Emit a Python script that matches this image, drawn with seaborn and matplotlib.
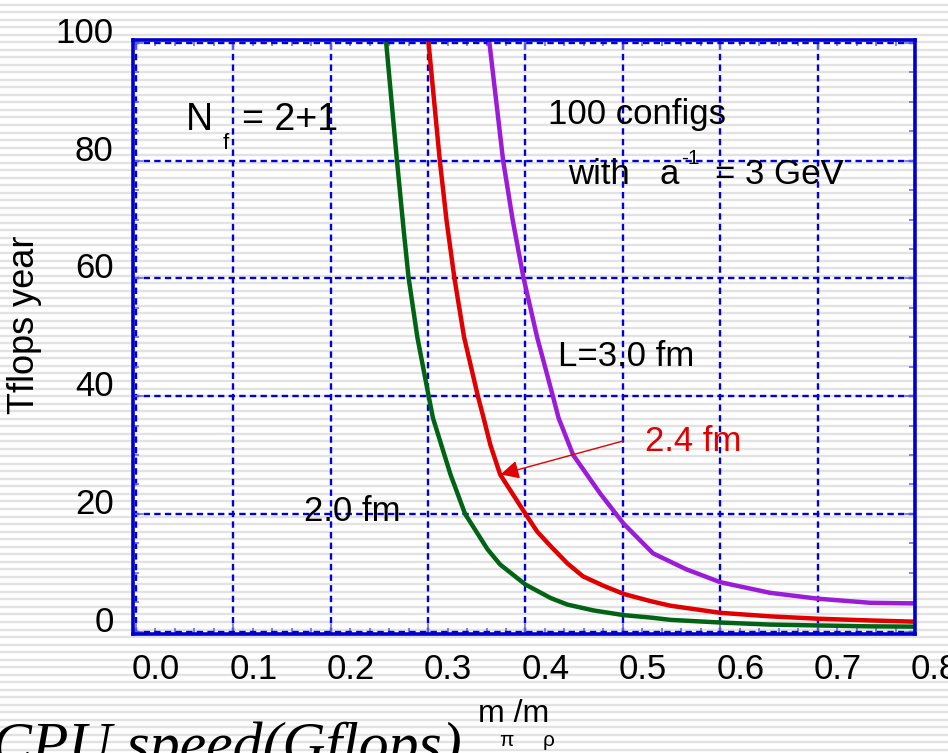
import numpy as np
import seaborn as sns
import matplotlib
matplotlib.use("Agg")
import matplotlib.pyplot as plt
from matplotlib.ticker import MultipleLocator
from matplotlib.transforms import ScaledTranslation

# values (x = m_pi/m_rho, y = Tflops year)
x_20 = [0.257, 0.268, 0.275, 0.280, 0.289, 0.3005, 0.305, 0.323, 0.338, 0.361,
        0.374, 0.400, 0.426, 0.443, 0.470, 0.501, 0.528, 0.549, 0.600, 0.651,
        0.700, 0.754, 0.798]
y_20 = [100, 80.1, 68.1, 60.1, 50.0, 40.1, 36.3, 26.7, 20.0, 14.0,
        11.4, 8.0, 5.7, 4.6, 3.6, 2.8, 2.4, 2.0, 1.55, 1.2,
        1.05, 0.9, 0.85]

x_24 = [0.3005, 0.312, 0.319, 0.327, 0.337, 0.351, 0.357, 0.364, 0.374, 0.400,
        0.412, 0.426, 0.443, 0.459, 0.480, 0.501, 0.528, 0.549, 0.600, 0.651,
        0.700, 0.754, 0.798]
y_24 = [100, 80.1, 69.8, 60.1, 50.0, 40.1, 36.3, 31.7, 26.7, 20.0,
        17.0, 14.5, 11.6, 9.4, 7.8, 6.4, 5.2, 4.4, 3.2, 2.6,
        2.2, 1.9, 1.7]

x_30 = [0.363, 0.377, 0.387, 0.398, 0.412, 0.428, 0.434, 0.449, 0.477, 0.501,
        0.531, 0.565, 0.600, 0.651, 0.700, 0.754, 0.798]
y_30 = [100, 80.1, 69.8, 60.1, 50.0, 40.1, 36.3, 30.0, 23.4, 18.3,
        13.3, 10.6, 8.4, 6.6, 5.6, 4.9, 4.8]

xticks = [0.0, 0.1, 0.2, 0.3, 0.4, 0.5, 0.6, 0.7, 0.8]
yticks = [0, 20, 40, 60, 80, 100]

sns.set_style("ticks")
plt.rcParams['font.family'] = ['Liberation Sans', 'DejaVu Sans']
plt.rcParams['text.color'] = 'black'
plt.rcParams['axes.labelcolor'] = 'black'
plt.rcParams['xtick.labelcolor'] = 'black'
plt.rcParams['ytick.labelcolor'] = 'black'

fig = plt.figure(figsize=(9.48, 7.53), dpi=100, facecolor="white")

# striped background
bg = fig.add_axes([0, 0, 1, 1], zorder=-1)
bg.hlines(np.arange(100) / 100 + 0.004, 0, 1, color="#e2e2e2", lw=1.7)
bg.set_xlim(0, 1)
bg.set_ylim(0, 1)
bg.axis("off")

ax = fig.add_axes([133 / 948, 119 / 753, 782 / 948, 594 / 753])
ax.set_facecolor("none")

sns.lineplot(x=x_20, y=y_20, color="#006414", lw=3.2, ax=ax)
sns.lineplot(x=x_24, y=y_24, color="#e00000", lw=3.2, ax=ax)
sns.lineplot(x=x_30, y=y_30, color="#9b1cd8", lw=3.2, ax=ax)

ax.set_xlim(-0.003, 0.8)
ax.set_ylim(-0.4, 100.5)
ax.set_xticks(xticks)
ax.set_yticks(yticks)
ax.set_xticklabels(["%.1f" % v for v in xticks])
ax.set_yticklabels([str(v) for v in yticks])
ax.xaxis.set_minor_locator(MultipleLocator(0.02))
ax.yaxis.set_minor_locator(MultipleLocator(5))

ax.grid(True, which="major", color="#0000dd", lw=1.7, linestyle=(0, (2.7, 1.8)))
for s in ax.spines.values():
    s.set_color("#0000cc")
    s.set_linewidth(2.6)
    s.set_visible(True)

ax.tick_params(which="both", direction="in", top=True, right=True,
               color="#6a6aee", width=1.2, labelsize=25, pad=14)
ax.tick_params(which="major", length=7)
ax.tick_params(which="minor", length=4)

for lab in ax.get_xticklabels():
    lab.set_transform(lab.get_transform() + ScaledTranslation(0.2, 0, fig.dpi_scale_trans))
for lab in ax.get_yticklabels():
    lab.set_transform(lab.get_transform() + ScaledTranslation(0, 0.13, fig.dpi_scale_trans))

ax.set_xlabel("")
ax.set_ylabel("Tflops year", fontsize=26)
ax.yaxis.set_label_coords(-0.116, 0.52)

# annotations
ax.text(0.051, 86.9, "N", fontsize=27, va="center", ha="left")
ax.text(0.089, 83.0, "f", fontsize=16, va="center", ha="left")
ax.text(0.109, 86.9, "= 2+1", fontsize=27, va="center", ha="left")

ax.text(0.4236, 87.9, "100 configs", fontsize=25, va="center", ha="left")
ax.text(0.444, 76.0, "with", fontsize=25, va="baseline", ha="left")
ax.text(0.538, 76.0, "a", fontsize=25, va="baseline", ha="left")
ax.text(0.560, 79.4, "-1", fontsize=15, va="baseline", ha="left")
ax.text(0.595, 76.0, "= 3 GeV", fontsize=25, va="baseline", ha="left")

ax.text(0.4338, 45.2, "L=3.0 fm", fontsize=25, va="baseline", ha="left")
ax.text(0.523, 30.7, "2.4 fm", fontsize=25, va="baseline", ha="left", color="#e00000")
ax.annotate("", xy=(0.3744, 26.7), xytext=(0.5005, 32.4),
            arrowprops=dict(arrowstyle="-|>", color="#e00000", lw=1.0,
                            mutation_scale=28, shrinkA=0, shrinkB=0))
ax.text(0.1723, 18.8, "2.0 fm", fontsize=25, va="baseline", ha="left")

# x axis label with separated subscripts
fig.text(478 / 948, 1 - 722 / 753, "m /m", fontsize=23, va="baseline", ha="left")
fig.text(506 / 948, 1 - 741 / 753, "\u03c0", fontsize=15, va="center", ha="center")
fig.text(549 / 948, 1 - 741 / 753, "\u03c1", fontsize=15, va="center", ha="center")

# cut-off caption at the bottom edge
fig.text(-8 / 948, -10 / 753, "CPU speed(Gflops)", fontsize=43,
         family="Liberation Serif", style="italic", va="baseline", ha="left")

fig.savefig("out.png", dpi=100)
